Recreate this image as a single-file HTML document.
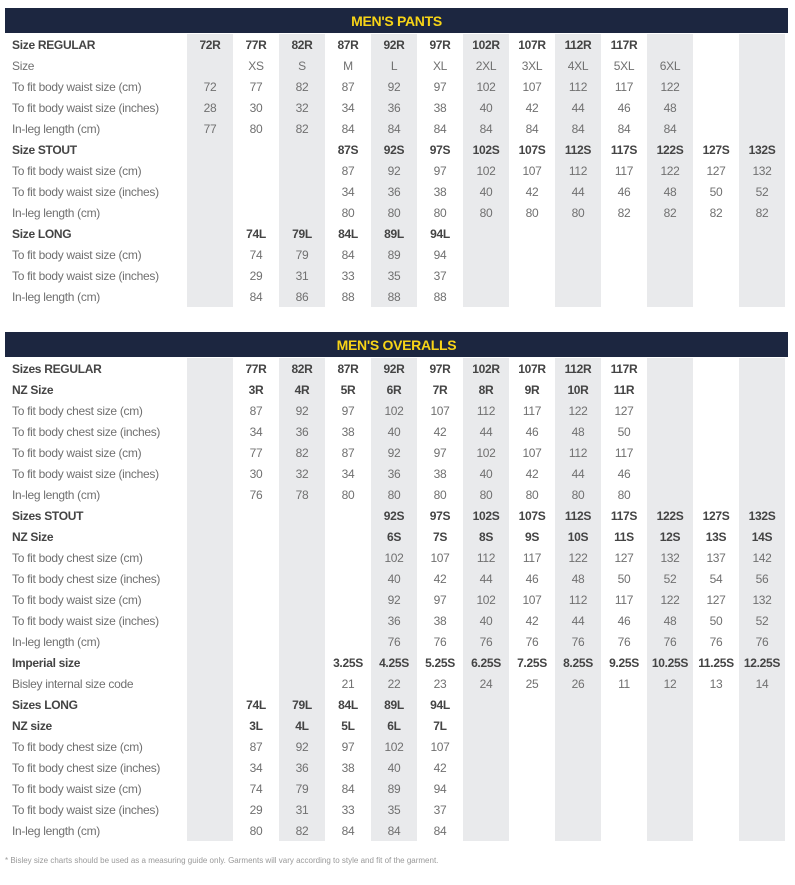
<!DOCTYPE html>
<html><head><meta charset="utf-8"><style>
body{margin:0;width:795px;height:885px;background:#fff;position:relative;overflow:hidden;font-family:"Liberation Sans Narrow","Liberation Sans",sans-serif;}
.bar{position:absolute;left:5px;width:783px;height:25px;background:#1c2640;color:#f7d417;font-weight:bold;font-size:14px;text-align:center;line-height:26px;letter-spacing:-0.3px}
table{position:absolute;left:5px;border-collapse:collapse;table-layout:fixed;width:780px}
td{height:21px;padding:0;font-size:12px;color:#707070;text-align:center;white-space:nowrap;overflow:visible;letter-spacing:-0.3px}
td:first-child{width:182px;text-align:left;padding-left:7px;box-sizing:border-box}
td:nth-child(2n){background:#e9eaec}
tr.b td{font-weight:bold;color:#444}
.foot{position:absolute;left:5px;top:856px;font-size:8px;color:#999}
</style></head><body>
<div class="bar" style="top:8px">MEN'S PANTS</div>
<table style="top:34px">
<colgroup><col style="width:182px"><col span="13" style="width:46px"></colgroup>
<tr class="b"><td>Size REGULAR</td><td>72R</td><td>77R</td><td>82R</td><td>87R</td><td>92R</td><td>97R</td><td>102R</td><td>107R</td><td>112R</td><td>117R</td><td></td><td></td><td></td></tr>
<tr><td>Size</td><td></td><td>XS</td><td>S</td><td>M</td><td>L</td><td>XL</td><td>2XL</td><td>3XL</td><td>4XL</td><td>5XL</td><td>6XL</td><td></td><td></td></tr>
<tr><td>To fit body waist size (cm)</td><td>72</td><td>77</td><td>82</td><td>87</td><td>92</td><td>97</td><td>102</td><td>107</td><td>112</td><td>117</td><td>122</td><td></td><td></td></tr>
<tr><td>To fit body waist size (inches)</td><td>28</td><td>30</td><td>32</td><td>34</td><td>36</td><td>38</td><td>40</td><td>42</td><td>44</td><td>46</td><td>48</td><td></td><td></td></tr>
<tr><td>In-leg length (cm)</td><td>77</td><td>80</td><td>82</td><td>84</td><td>84</td><td>84</td><td>84</td><td>84</td><td>84</td><td>84</td><td>84</td><td></td><td></td></tr>
<tr class="b"><td>Size STOUT</td><td></td><td></td><td></td><td>87S</td><td>92S</td><td>97S</td><td>102S</td><td>107S</td><td>112S</td><td>117S</td><td>122S</td><td>127S</td><td>132S</td></tr>
<tr><td>To fit body waist size (cm)</td><td></td><td></td><td></td><td>87</td><td>92</td><td>97</td><td>102</td><td>107</td><td>112</td><td>117</td><td>122</td><td>127</td><td>132</td></tr>
<tr><td>To fit body waist size (inches)</td><td></td><td></td><td></td><td>34</td><td>36</td><td>38</td><td>40</td><td>42</td><td>44</td><td>46</td><td>48</td><td>50</td><td>52</td></tr>
<tr><td>In-leg length (cm)</td><td></td><td></td><td></td><td>80</td><td>80</td><td>80</td><td>80</td><td>80</td><td>80</td><td>82</td><td>82</td><td>82</td><td>82</td></tr>
<tr class="b"><td>Size LONG</td><td></td><td>74L</td><td>79L</td><td>84L</td><td>89L</td><td>94L</td><td></td><td></td><td></td><td></td><td></td><td></td><td></td></tr>
<tr><td>To fit body waist size (cm)</td><td></td><td>74</td><td>79</td><td>84</td><td>89</td><td>94</td><td></td><td></td><td></td><td></td><td></td><td></td><td></td></tr>
<tr><td>To fit body waist size (inches)</td><td></td><td>29</td><td>31</td><td>33</td><td>35</td><td>37</td><td></td><td></td><td></td><td></td><td></td><td></td><td></td></tr>
<tr><td>In-leg length (cm)</td><td></td><td>84</td><td>86</td><td>88</td><td>88</td><td>88</td><td></td><td></td><td></td><td></td><td></td><td></td><td></td></tr>
</table>

<div class="bar" style="top:332px">MEN'S OVERALLS</div>
<table style="top:358px">
<colgroup><col style="width:182px"><col span="13" style="width:46px"></colgroup>
<tr class="b"><td>Sizes REGULAR</td><td></td><td>77R</td><td>82R</td><td>87R</td><td>92R</td><td>97R</td><td>102R</td><td>107R</td><td>112R</td><td>117R</td><td></td><td></td><td></td></tr>
<tr class="b"><td>NZ Size</td><td></td><td>3R</td><td>4R</td><td>5R</td><td>6R</td><td>7R</td><td>8R</td><td>9R</td><td>10R</td><td>11R</td><td></td><td></td><td></td></tr>
<tr><td>To fit body chest size (cm)</td><td></td><td>87</td><td>92</td><td>97</td><td>102</td><td>107</td><td>112</td><td>117</td><td>122</td><td>127</td><td></td><td></td><td></td></tr>
<tr><td>To fit body chest size (inches)</td><td></td><td>34</td><td>36</td><td>38</td><td>40</td><td>42</td><td>44</td><td>46</td><td>48</td><td>50</td><td></td><td></td><td></td></tr>
<tr><td>To fit body waist size (cm)</td><td></td><td>77</td><td>82</td><td>87</td><td>92</td><td>97</td><td>102</td><td>107</td><td>112</td><td>117</td><td></td><td></td><td></td></tr>
<tr><td>To fit body waist size (inches)</td><td></td><td>30</td><td>32</td><td>34</td><td>36</td><td>38</td><td>40</td><td>42</td><td>44</td><td>46</td><td></td><td></td><td></td></tr>
<tr><td>In-leg length (cm)</td><td></td><td>76</td><td>78</td><td>80</td><td>80</td><td>80</td><td>80</td><td>80</td><td>80</td><td>80</td><td></td><td></td><td></td></tr>
<tr class="b"><td>Sizes STOUT</td><td></td><td></td><td></td><td></td><td>92S</td><td>97S</td><td>102S</td><td>107S</td><td>112S</td><td>117S</td><td>122S</td><td>127S</td><td>132S</td></tr>
<tr class="b"><td>NZ Size</td><td></td><td></td><td></td><td></td><td>6S</td><td>7S</td><td>8S</td><td>9S</td><td>10S</td><td>11S</td><td>12S</td><td>13S</td><td>14S</td></tr>
<tr><td>To fit body chest size (cm)</td><td></td><td></td><td></td><td></td><td>102</td><td>107</td><td>112</td><td>117</td><td>122</td><td>127</td><td>132</td><td>137</td><td>142</td></tr>
<tr><td>To fit body chest size (inches)</td><td></td><td></td><td></td><td></td><td>40</td><td>42</td><td>44</td><td>46</td><td>48</td><td>50</td><td>52</td><td>54</td><td>56</td></tr>
<tr><td>To fit body waist size (cm)</td><td></td><td></td><td></td><td></td><td>92</td><td>97</td><td>102</td><td>107</td><td>112</td><td>117</td><td>122</td><td>127</td><td>132</td></tr>
<tr><td>To fit body waist size (inches)</td><td></td><td></td><td></td><td></td><td>36</td><td>38</td><td>40</td><td>42</td><td>44</td><td>46</td><td>48</td><td>50</td><td>52</td></tr>
<tr><td>In-leg length (cm)</td><td></td><td></td><td></td><td></td><td>76</td><td>76</td><td>76</td><td>76</td><td>76</td><td>76</td><td>76</td><td>76</td><td>76</td></tr>
<tr class="b"><td>Imperial size</td><td></td><td></td><td></td><td>3.25S</td><td>4.25S</td><td>5.25S</td><td>6.25S</td><td>7.25S</td><td>8.25S</td><td>9.25S</td><td>10.25S</td><td>11.25S</td><td>12.25S</td></tr>
<tr><td>Bisley internal size code</td><td></td><td></td><td></td><td>21</td><td>22</td><td>23</td><td>24</td><td>25</td><td>26</td><td>11</td><td>12</td><td>13</td><td>14</td></tr>
<tr class="b"><td>Sizes LONG</td><td></td><td>74L</td><td>79L</td><td>84L</td><td>89L</td><td>94L</td><td></td><td></td><td></td><td></td><td></td><td></td><td></td></tr>
<tr class="b"><td>NZ size</td><td></td><td>3L</td><td>4L</td><td>5L</td><td>6L</td><td>7L</td><td></td><td></td><td></td><td></td><td></td><td></td><td></td></tr>
<tr><td>To fit body chest size (cm)</td><td></td><td>87</td><td>92</td><td>97</td><td>102</td><td>107</td><td></td><td></td><td></td><td></td><td></td><td></td><td></td></tr>
<tr><td>To fit body chest size (inches)</td><td></td><td>34</td><td>36</td><td>38</td><td>40</td><td>42</td><td></td><td></td><td></td><td></td><td></td><td></td><td></td></tr>
<tr><td>To fit body waist size (cm)</td><td></td><td>74</td><td>79</td><td>84</td><td>89</td><td>94</td><td></td><td></td><td></td><td></td><td></td><td></td><td></td></tr>
<tr><td>To fit body waist size (inches)</td><td></td><td>29</td><td>31</td><td>33</td><td>35</td><td>37</td><td></td><td></td><td></td><td></td><td></td><td></td><td></td></tr>
<tr><td>In-leg length (cm)</td><td></td><td>80</td><td>82</td><td>84</td><td>84</td><td>84</td><td></td><td></td><td></td><td></td><td></td><td></td><td></td></tr>
</table>
<div class="foot">* Bisley size charts should be used as a measuring guide only. Garments will vary according to style and fit of the garment.</div>
</body></html>
